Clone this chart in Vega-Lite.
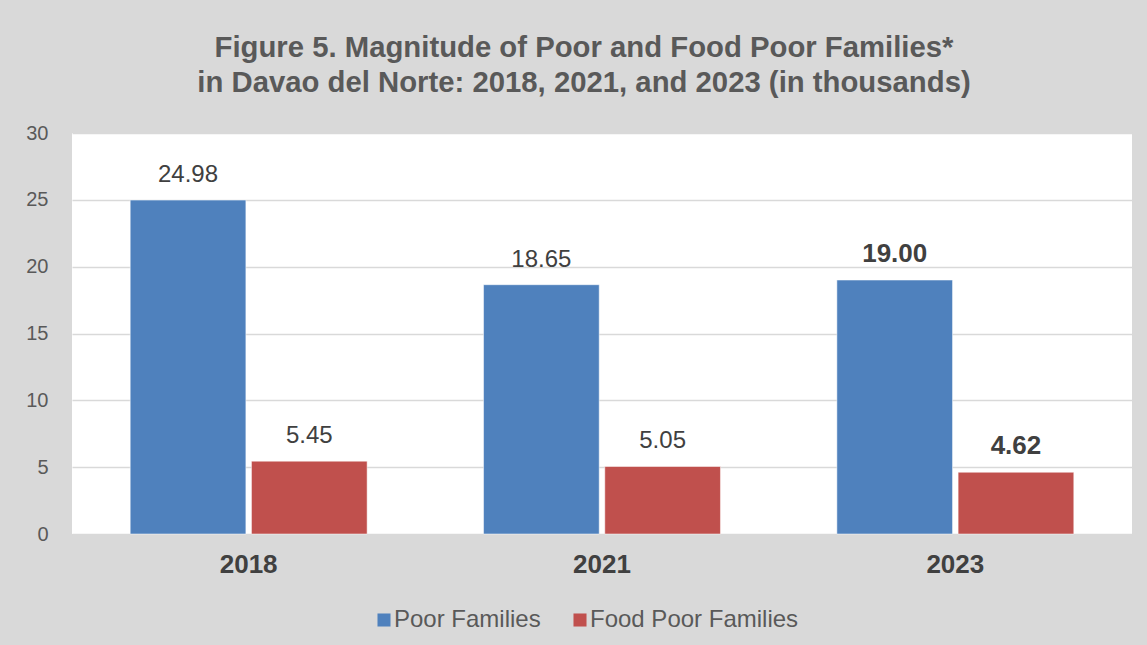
{
  "$schema": "https://vega.github.io/schema/vega-lite/v6.json",
  "autosize": {"type": "none"},
  "width": 1060,
  "height": 401,
  "padding": {"left": 72, "top": 133, "right": 15, "bottom": 111},
  "background": "#d9d9d9",
  "config": {
    "font": "Liberation Sans",
    "view": {"fill": "white", "stroke": null}
  },
  "title": {
    "text": ["Figure 5. Magnitude of Poor and Food Poor Families*", "in Davao del Norte: 2018, 2021, and 2023 (in thousands)"],
    "font": "Liberation Sans",
    "fontSize": 29.3,
    "fontWeight": "bold",
    "color": "#595959",
    "anchor": "middle",
    "frame": "group",
    "lineHeight": 35,
    "offset": 25,
    "dx": -18
  },
  "data": {
    "values": [
      {"year": "2018", "series": "Poor Families", "value": 24.98},
      {"year": "2018", "series": "Food Poor Families", "value": 5.45},
      {"year": "2021", "series": "Poor Families", "value": 18.65},
      {"year": "2021", "series": "Food Poor Families", "value": 5.05},
      {"year": "2023", "series": "Poor Families", "value": 19.00},
      {"year": "2023", "series": "Food Poor Families", "value": 4.62}
    ]
  },
  "encoding": {
    "x": {
      "field": "year", "type": "nominal",
      "scale": {"paddingInner": 0, "paddingOuter": 0},
      "axis": {
        "title": null, "labelAngle": 0, "labelFontSize": 26, "labelFontWeight": "bold",
        "labelColor": "#404040", "labelPadding": 17, "ticks": false, "domain": false, "grid": false
      }
    },
    "xOffset": {
      "field": "series", "type": "nominal",
      "sort": ["Poor Families", "Food Poor Families"],
      "scale": {"paddingInner": 0.046, "paddingOuter": 0.48}
    },
    "y": {
      "field": "value", "type": "quantitative",
      "scale": {"domain": [0, 30], "nice": false},
      "axis": {
        "title": null, "values": [0, 5, 10, 15, 20, 25, 30], "labelFontSize": 20,
        "labelColor": "#595959", "labelPadding": 24, "ticks": false, "domain": false,
        "grid": true, "gridColor": "#d9d9d9", "gridWidth": 1.5
      }
    }
  },
  "layer": [
    {
      "mark": {"type": "bar", "stroke": "white", "strokeWidth": 0.5},
      "encoding": {
        "color": {
          "field": "series", "type": "nominal",
          "scale": {"domain": ["Poor Families", "Food Poor Families"], "range": ["#4f81bd", "#c0504d"]},
          "legend": {
            "title": null, "orient": "none", "direction": "horizontal",
            "legendX": 300, "legendY": 475,
            "symbolType": "square", "symbolSize": 170, "symbolStrokeWidth": 0,
            "labelFontSize": 24, "labelColor": "#595959", "labelOffset": -2,
            "labelLimit": 400, "columnPadding": 27
          }
        }
      }
    },
    {
      "transform": [{"filter": "datum.year != '2023'"}],
      "mark": {"type": "text", "baseline": "alphabetic", "dy": -18, "fontSize": 24, "color": "#404040"},
      "encoding": {"text": {"field": "value", "type": "quantitative", "format": ".2f"}}
    },
    {
      "transform": [{"filter": "datum.year == '2023'"}],
      "mark": {"type": "text", "baseline": "alphabetic", "dy": -18, "fontSize": 26, "fontWeight": "bold", "color": "#404040"},
      "encoding": {"text": {"field": "value", "type": "quantitative", "format": ".2f"}}
    }
  ]
}
